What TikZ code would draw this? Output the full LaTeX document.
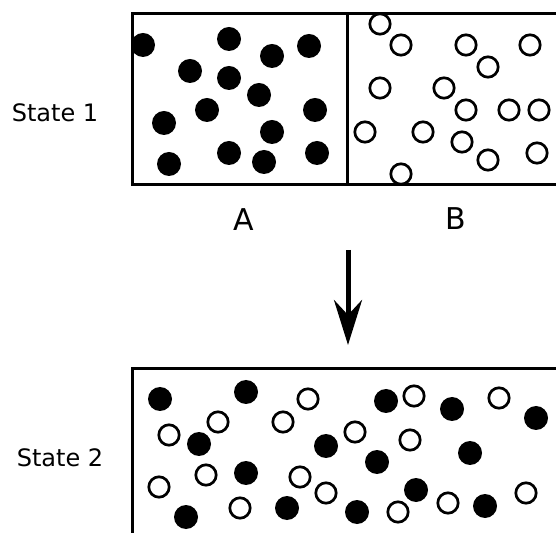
\documentclass[tikz,border=0pt]{standalone}
\usepackage{fontspec}
\setmainfont{DejaVu Sans}
\usetikzlibrary{arrows.meta}

\begin{document}
\begin{tikzpicture}[x=0.5pt, y=-0.5pt]
    		\tikzstyle{fulldot} = [circle, fill=black, minimum size=12pt, inner sep=0pt]
    		\tikzstyle{emptydot} = [circle, draw, line width=1.35pt, minimum size=10.2pt, inner sep=0pt, fill=white]
    		\tikzstyle{wall} = [line width=1.5pt]
    		\tikzstyle{statelabel} = [font=\fontsize{12}{14}\selectfont]
    		\tikzstyle{sidelabel} = [font=\fontsize{15}{18}\selectfont]
    		\useasboundingbox (0,0) rectangle (556,533);
    		% state 1 container
    		\draw[wall] (556,14) -- (132,14) -- (132,185) -- (556,185);
    		\draw[wall] (347,14) -- (347,185);
    		% state 2 container
    		\draw[wall] (556,369) -- (132,369) -- (132,533);
    		\node[statelabel] (S1) at (55,113) {State 1};
    		\node[statelabel] (S2) at (60,458) {State 2};
    		\node[sidelabel] (A) at (244,220) {A};
    		\node[sidelabel] (B) at (456,219) {B};
		\foreach \x/\y [count=\i] in {143/45, 229/39, 272/56, 309/46, 190/71, 229/78, 259/95, 207/110, 315/110, 164/123, 272/132, 229/153, 264/162, 317/153, 169/164}
    		{
        		\node[fulldot] (a\i) at (\x,\y) {};
    		}
		\foreach \x/\y [count=\i] in {380/24, 401/45, 466/45, 530/45, 488/67, 380/88, 444/88, 466/110, 509/110, 539/110, 365/132, 423/132, 462/142, 488/160, 537/153, 401/174}
    		{
        		\node[emptydot] (b\i) at (\x,\y) {};
    		}
		\foreach \x/\y [count=\i] in {160/399, 246/392, 199/444, 326/446, 246/473, 186/517, 287/508, 386/401, 452/409, 536/418, 377/462, 470/453, 416/490, 357/512, 485/506}
    		{
        		\node[fulldot] (c\i) at (\x,\y) {};
    		}
		\foreach \x/\y [count=\i] in {308/399, 218/422, 283/422, 169/435, 206/475, 300/477, 159/487, 326/493, 240/508, 414/396, 499/398, 355/432, 410/440, 398/512, 448/503, 526/493}
    		{
        		\node[emptydot] (d\i) at (\x,\y) {};
    		}
    		% mixing arrow
    		\coordinate (top) at (348,250);
    		\coordinate (tip) at (348,345);
    		\draw[line width=2.5pt, -{Stealth[length=22.5pt, width=14pt, inset=7.5pt]}] (top) -- (tip);
		\end{tikzpicture}
\end{document}
